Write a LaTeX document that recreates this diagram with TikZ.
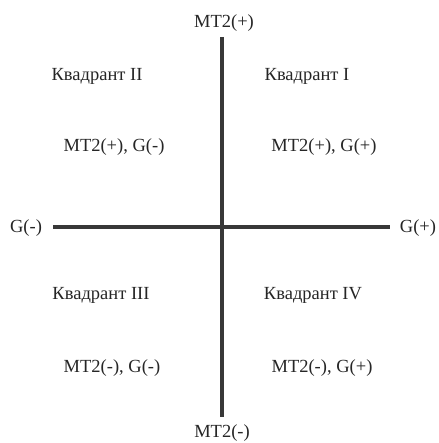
\documentclass[tikz,border=0pt]{standalone}
\usepackage{fontspec}
\setmainfont{Liberation Serif}
\begin{document}
\begin{tikzpicture}[x=1pt,y=-1pt,
  lbl/.style={font=\fontsize{18.5}{20}\selectfont, text=black!85, inner sep=0pt, anchor=center},
  axis/.style={line width=3.2pt, draw=black!78}]
\useasboundingbox (0,0) rectangle (438,443);
\node[lbl] (top) at (224,23) {MT2(+)};
\node[lbl] (bot) at (222,433) {MT2(-)};
\node[lbl] (left) at (26,228) {G(-)};
\node[lbl] (right) at (418,228) {G(+)};
\coordinate (vt) at (222,37);
\coordinate (vb) at (222,417);
\coordinate (hl) at (53,227);
\coordinate (hr) at (390,227);
\draw[axis] (vt) -- (vb);
\draw[axis] (hl) -- (hr);
\node[lbl] (q2) at (97,76) {Квадрант II};
\node[lbl] (q1) at (307,76) {Квадрант I};
\node[lbl] (q2s) at (114,147) {MT2(+), G(-)};
\node[lbl] (q1s) at (324,147) {MT2(+), G(+)};
\node[lbl] (q3) at (101,295) {Квадрант III};
\node[lbl] (q4) at (313,295) {Квадрант IV};
\node[lbl] (q3s) at (112,368) {MT2(-), G(-)};
\node[lbl] (q4s) at (322,368) {MT2(-), G(+)};
\end{tikzpicture}
\end{document}
